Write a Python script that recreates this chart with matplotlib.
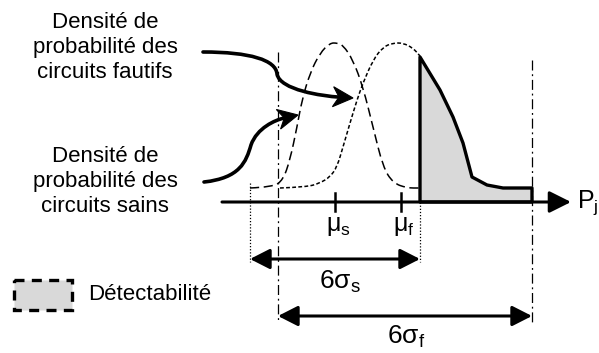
import numpy as np
import matplotlib
matplotlib.use("Agg")
import matplotlib.pyplot as plt
from matplotlib.path import Path
from matplotlib.patches import PathPatch, Polygon, Rectangle

plt.rcParams["font.family"] = ["Liberation Sans", "DejaVu Sans"]
plt.rcParams["mathtext.fontset"] = "custom"
plt.rcParams["mathtext.rm"] = "Liberation Sans"
plt.rcParams["mathtext.it"] = "Liberation Sans"

# Drawing space: P_j runs left to right, density grows upward (y axis inverted)
axis_y = 202

# Density of healthy circuits (dashed)
sains_x = [250, 273, 283, 290, 297, 302, 310, 320, 330, 337, 343, 353, 363, 373, 383, 393, 407, 420]
sains_y = [188, 187, 180, 160, 127, 100, 73, 53, 43, 43, 45, 60, 87, 127, 167, 183, 188, 188]

# Density of faulty circuits (dotted), up to the detection threshold
fautifs_x = [280, 307, 320, 330, 337, 343, 350, 357, 363, 373, 383, 393, 403, 413, 420]
fautifs_y = [188, 187, 183, 177, 167, 147, 123, 100, 83, 60, 47, 43, 43, 48, 56]

# Detectable part of the faulty density (shaded)
detect_x = [420, 440, 453, 463, 472, 487, 503, 532, 532, 420]
detect_y = [57, 90, 117, 143, 177, 185, 188, 188, 202, 202]

# Means and spreads
mu_s, mu_f = 335, 401
span_s = (250, 420)
span_f = (278, 532)


def smooth_path(xs, ys):
    pts = list(zip(xs, ys))
    verts = [pts[0]]
    codes = [Path.MOVETO]
    for i in range(1, len(pts) - 1):
        mid = ((pts[i][0] + pts[i + 1][0]) / 2, (pts[i][1] + pts[i + 1][1]) / 2)
        verts += [pts[i], mid]
        codes += [Path.CURVE3, Path.CURVE3]
    verts.append(pts[-1])
    codes.append(Path.LINETO)
    return Path(verts, codes)


def curved_pointer(ax, verts, length=20, half=10, notch=6, lw=2.6):
    """Cubic Bezier pointer ending in a barbed head."""
    tip = np.array(verts[-1], float)
    ctrl = np.array(verts[-2], float)
    d = (tip - ctrl) / np.hypot(*(tip - ctrl))
    n = np.array([-d[1], d[0]])
    end = tip - (length - notch) * d
    body = [tuple(v) for v in verts[:-1]] + [tuple(end)]
    codes = [Path.MOVETO] + [Path.CURVE4] * (len(body) - 1)
    ax.add_patch(PathPatch(Path(body, codes), fill=False, lw=lw, edgecolor="black",
                           capstyle="round"))
    head = [tip, tip - length * d + half * n, end, tip - length * d - half * n]
    ax.add_patch(Polygon(head, closed=True, facecolor="black", edgecolor="black", lw=0.8))


fig = plt.figure(figsize=(5.99, 3.53), dpi=100)
ax = fig.add_axes([0, 0, 1, 1])
ax.set_xlim(0, 599)
ax.set_ylim(353, 0)
ax.axis("off")

# Reference verticals
ax.plot([span_f[0]] * 2, [52, 322], color="black", lw=0.9, ls=(0, (8, 3, 1.5, 3)))
ax.plot([span_f[1]] * 2, [60, 322], color="black", lw=0.9, ls=(0, (8, 3, 1.5, 3)))
ax.plot([span_s[0]] * 2, [183, 262], color="black", lw=0.9, ls=(0, (1, 1.5)))
ax.plot([span_s[1]] * 2, [202, 262], color="black", lw=0.9, ls=(0, (1, 1.5)))

# Density curves
ax.add_patch(PathPatch(smooth_path(sains_x, sains_y), fill=False, lw=1.1,
                       ls=(0, (6, 3)), edgecolor="black"))
ax.add_patch(PathPatch(smooth_path(fautifs_x, fautifs_y), fill=False, lw=1.1,
                       ls=(0, (2.5, 1.5)), edgecolor="black"))

# Detectable area
ax.add_patch(Polygon(list(zip(detect_x, detect_y)), closed=True, facecolor="#d9d9d9",
                     edgecolor="black", lw=2.4, joinstyle="round"))

# P_j axis
ax.annotate("", xy=(571, axis_y), xytext=(222, axis_y),
            arrowprops=dict(arrowstyle="-|>,head_length=0.6,head_width=0.3", lw=2.2,
                            color="black", mutation_scale=22, shrinkA=0, shrinkB=0))
ax.text(577, axis_y + 1, r"P$_\mathregular{j}$", fontsize=18, ha="left", va="center")

# Mean ticks and labels
for m, lab in [(mu_s, r"μ$_\mathregular{s}$"), (mu_f, r"μ$_\mathregular{f}$")]:
    ax.plot([m, m], [193, 211], color="black", lw=1.8)
    ax.text(m + 3, 226, lab, fontsize=18, ha="center", va="center")

# Spread arrows
arrow2 = dict(arrowstyle="<|-|>,head_length=0.55,head_width=0.28", lw=2.2, color="black",
              mutation_scale=22, shrinkA=0, shrinkB=0)
ax.annotate("", xy=(span_s[1], 259), xytext=(span_s[0], 259), arrowprops=arrow2)
ax.text(340, 282, r"6σ$_\mathregular{s}$", fontsize=19, ha="center", va="center")
ax.annotate("", xy=(span_f[1], 316), xytext=(span_f[0], 316), arrowprops=arrow2)
ax.text(406, 337, r"6σ$_\mathregular{f}$", fontsize=19, ha="center", va="center")

# Captions with curved pointers
ax.text(105, 48, "Densité de\nprobabilité des\ncircuits fautifs", fontsize=16,
        ha="center", va="center", multialignment="center", linespacing=1.25)
ax.text(105, 181, "Densité de\nprobabilité des\ncircuits sains", fontsize=16,
        ha="center", va="center", multialignment="center", linespacing=1.25)

curved_pointer(ax, [(203, 52), (250, 52), (276, 60), (277, 74),
                    (280, 90), (322, 96), (353, 98)])
curved_pointer(ax, [(204, 182), (240, 178), (246, 162), (251, 145),
                    (257, 128), (275, 120), (298, 115)])

# Legend
ax.add_patch(Rectangle((14, 280), 58, 30, facecolor="#d9d9d9", edgecolor="black",
                       lw=2.4, ls=(0, (3, 2.2))))
ax.text(88, 294, "Détectabilité", fontsize=16, ha="left", va="center")

fig.savefig("out.png", dpi=100)
